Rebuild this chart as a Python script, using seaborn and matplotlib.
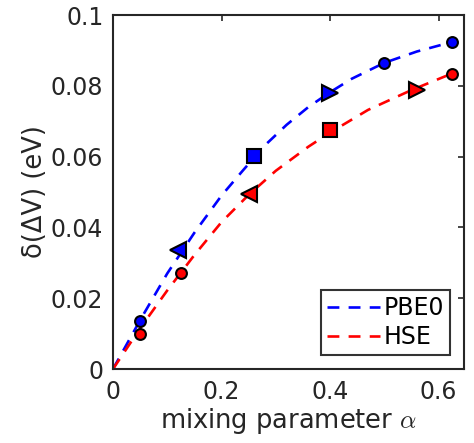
import pandas as pd
import matplotlib
matplotlib.use("Agg")
import matplotlib.pyplot as plt
from matplotlib.lines import Line2D
import seaborn as sns

# Computed points (markers)
pbe0_alpha = [0.05, 0.12, 0.26, 0.40, 0.50, 0.625]
pbe0_dv = [0.0136, 0.0336, 0.0602, 0.078, 0.0864, 0.0924]
pbe0_mk = ["o", "<", "s", ">", "o", "o"]

hse_alpha = [0.05, 0.125, 0.25, 0.40, 0.56, 0.625]
hse_dv = [0.0099, 0.0271, 0.0494, 0.0675, 0.0788, 0.0833]
hse_mk = ["o", "o", "<", "s", ">", "o"]

# Dashed fit curves
pbe0_curve_alpha = [0.0, 0.05, 0.1, 0.15, 0.2, 0.24, 0.28, 0.32, 0.36, 0.4, 0.44, 0.5, 0.56, 0.625]
pbe0_curve = [0.0, 0.0138, 0.027, 0.0385, 0.049, 0.0562, 0.0632, 0.0690, 0.0740, 0.0782, 0.0820, 0.0865, 0.0897, 0.0924]
hse_curve_alpha = [0.0, 0.05, 0.1, 0.125, 0.15, 0.2, 0.25, 0.3, 0.36, 0.4, 0.47, 0.55, 0.625]
hse_curve = [0.0, 0.0115, 0.0222, 0.0272, 0.0322, 0.0415, 0.0492, 0.0560, 0.0628, 0.0668, 0.0732, 0.0788, 0.0835]

sns.set_style("white")
plt.rcParams["font.family"] = ["DejaVu Sans"]
plt.rcParams["mathtext.fontset"] = "cm"
txt = "#262626"
dash = [4.5, 3.5]

fig = plt.figure(figsize=(4.74, 4.43), dpi=100)
ax = fig.add_axes([0.2384, 0.167, 0.7406, 0.799])

curves = pd.DataFrame({
    "alpha": pbe0_curve_alpha + hse_curve_alpha,
    "dv": pbe0_curve + hse_curve,
    "method": ["PBE0"] * len(pbe0_curve_alpha) + ["HSE"] * len(hse_curve_alpha),
})
sns.lineplot(data=curves, x="alpha", y="dv", hue="method", sort=False,
             palette={"PBE0": "#0000ff", "HSE": "#ff0000"},
             linewidth=1.9, ax=ax, legend=False)
for ln in ax.get_lines():
    ln.set_dashes(dash)

sizes = {"o": 7.8, "s": 9.8, "<": 11.5, ">": 11.5}
for xs, ys, ms, col in [(pbe0_alpha, pbe0_dv, pbe0_mk, "#0000ff"),
                        (hse_alpha, hse_dv, hse_mk, "#ff0000")]:
    for x, y, m in zip(xs, ys, ms):
        ax.plot(x, y, marker=m, markersize=sizes[m], color=col,
                markeredgecolor="black", markeredgewidth=1.5, linestyle="none")

ax.set_xlim(0, 0.647)
ax.set_ylim(0, 0.1)
ax.set_xticks([0, 0.2, 0.4, 0.6])
ax.set_xticklabels(["0", "0.2", "0.4", "0.6"])
ax.set_yticks([0, 0.02, 0.04, 0.06, 0.08, 0.1])
ax.set_yticklabels(["0", "0.02", "0.04", "0.06", "0.08", "0.1"])
ax.tick_params(direction="in", length=4, width=1.2, top=True, right=True,
               labelsize=17, colors=txt)
ax.tick_params(axis="x", pad=8)
ax.tick_params(axis="y", pad=7)
for sp in ax.spines.values():
    sp.set_color(txt)
    sp.set_linewidth(1.5)
ax.set_xlabel(r"mixing parameter $\alpha$", fontsize=18.5, color=txt, labelpad=1)
ax.set_ylabel("δ(ΔV) (eV)", fontsize=18.5, color=txt, labelpad=2)

handles = [Line2D([], [], color="#0000ff", lw=1.9, dashes=dash),
           Line2D([], [], color="#ff0000", lw=1.9, dashes=dash)]
leg = ax.legend(handles, ["PBE0", "HSE"], loc="lower right", fontsize=17,
                frameon=True, fancybox=False, edgecolor="black",
                handlelength=2.25, handletextpad=0.15, borderpad=0.25,
                labelspacing=0.2, borderaxespad=0.6)
leg.get_frame().set_linewidth(1.5)
for t in leg.get_texts():
    t.set_color("black")

fig.savefig("out.png", dpi=100)
